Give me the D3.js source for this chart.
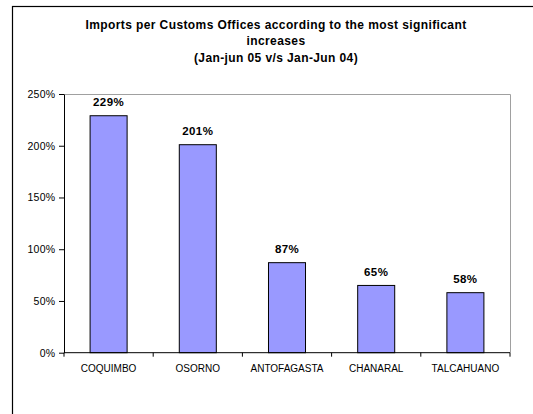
<!DOCTYPE html>
<html>
<head>
<meta charset="utf-8">
<script src="https://cdn.jsdelivr.net/npm/d3@7"></script>
<style>
  html, body { margin: 0; padding: 0; background: #fff; }
  svg { display: block; font-family: Arial, "Liberation Sans", sans-serif; }
</style>
</head>
<body>
<svg id="chart" width="533" height="414"></svg>
<script>
// Customs offices with the largest import increases
const offices = ["COQUIMBO", "OSORNO", "ANTOFAGASTA", "CHANARAL", "TALCAHUANO"];
const increases = [2.29, 2.01, 0.87, 0.65, 0.58];
const yTicks = [0, 0.5, 1.0, 1.5, 2.0, 2.5];
const titleLines = [
  "Imports per Customs Offices according to the most significant",
  "increases",
  "(Jan-jun 05 v/s Jan-Jun 04)"
];

const svg = d3.select("#chart");
const plot = { left: 64, right: 510, top: 94, bottom: 352.7 };

// outer chart frame
svg.append("rect")
  .attr("x", 12.5).attr("y", 6.5)
  .attr("width", 540).attr("height", 430)
  .attr("fill", "none").attr("stroke", "#000").attr("stroke-width", 1.2);

// title
svg.append("g").selectAll("text")
  .data(titleLines)
  .join("text")
  .attr("x", 276)
  .attr("y", (d, i) => 28.5 + i * 16.5)
  .attr("text-anchor", "middle")
  .attr("font-size", "12px")
  .attr("letter-spacing", "0.4px")
  .attr("font-weight", "bold")
  .text(d => d);

const x = d3.scaleBand().domain(offices).range([plot.left, plot.right]).padding(0);
const y = d3.scaleLinear().domain([0, 2.5]).range([plot.bottom, plot.top]);
const barW = x.bandwidth() * 0.415;

// plot area border (top and right in grey)
svg.append("path")
  .attr("d", `M${plot.left},${plot.top + 0.5}H${plot.right + 0.5}V${plot.bottom}`)
  .attr("fill", "none").attr("stroke", "#a0a0a0").attr("stroke-width", 1);

// bars
svg.append("g").selectAll("rect")
  .data(offices)
  .join("rect")
  .attr("x", (d) => x(d) + (x.bandwidth() - barW) / 2)
  .attr("y", (d, i) => y(increases[i]))
  .attr("width", barW)
  .attr("height", (d, i) => y(0) - y(increases[i]))
  .attr("fill", "#9999ff")
  .attr("stroke", "#000")
  .attr("stroke-width", 1);

// value labels
svg.append("g").selectAll("text")
  .data(offices)
  .join("text")
  .attr("x", d => x(d) + x.bandwidth() / 2)
  .attr("y", (d, i) => y(increases[i]) - 9.5)
  .attr("text-anchor", "middle")
  .attr("font-size", "11.5px")
  .attr("letter-spacing", "0.4px")
  .attr("font-weight", "bold")
  .text((d, i) => d3.format(".0%")(increases[i]));

// y axis
const yAxis = svg.append("g")
  .attr("transform", `translate(${plot.left},0)`)
  .call(d3.axisLeft(y).tickValues(yTicks).tickFormat(d3.format(".0%")).tickSize(5).tickPadding(3.5).tickSizeOuter(0));
yAxis.select(".domain").attr("stroke", "#000");
yAxis.selectAll("text")
  .attr("font-size", "10.5px").attr("letter-spacing", "0.3px")
  .attr("fill", "#000").attr("font-family", "Arial, 'Liberation Sans', sans-serif");

// x axis with ticks between categories
const xAxis = svg.append("g")
  .attr("transform", `translate(0,${plot.bottom})`)
  .call(d3.axisBottom(x).tickSize(0).tickPadding(12.5));
xAxis.select(".domain").attr("d", `M${plot.left},0H${plot.right}`).attr("stroke", "#000");
xAxis.selectAll("text")
  .attr("font-size", "10px")
  .attr("fill", "#000").attr("font-family", "Arial, 'Liberation Sans', sans-serif");
xAxis.append("g").selectAll("line")
  .data(offices.concat(["end"]))
  .join("line")
  .attr("x1", (d, i) => i < offices.length ? x(d) : plot.right)
  .attr("x2", (d, i) => i < offices.length ? x(d) : plot.right)
  .attr("y1", 0).attr("y2", 4)
  .attr("stroke", "#000");
</script>
</body>
</html>
